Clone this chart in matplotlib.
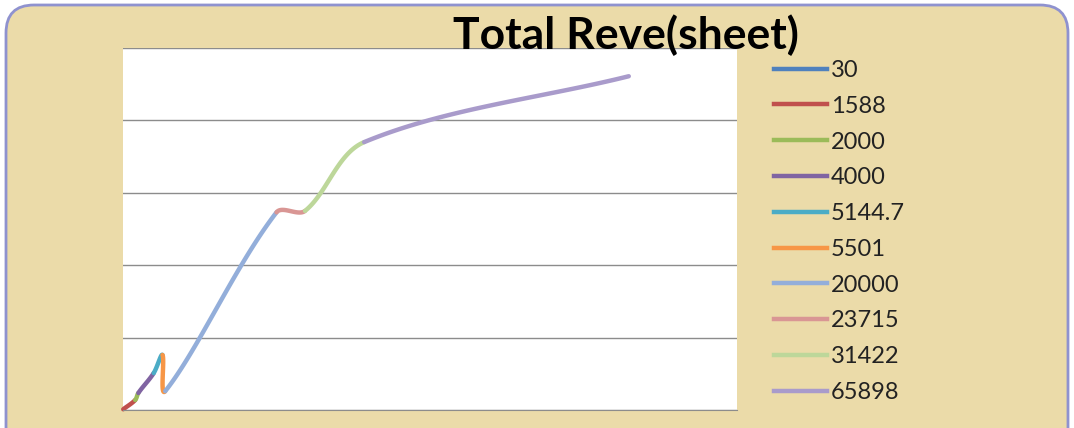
import numpy as np
import matplotlib
matplotlib.use("Agg")
import matplotlib.pyplot as plt
from matplotlib.patches import FancyBboxPatch
from matplotlib.lines import Line2D

plt.rcParams['font.family'] = ['Lato', 'DejaVu Sans']

# x values (also the legend labels) and total revenue
labels = ["30", "1588", "2000", "4000", "5144.7", "5501",
          "20000", "23715", "31422", "65898"]
x_vals = [30, 1588, 2000, 4000, 5144.7, 5501, 20000, 23715, 31422, 65898]
revenue = [1000, 13800, 23500, 51000, 76000, 26000, 273000, 275000, 370000, 461000]
colors = ["#4F81BD", "#C0504D", "#9BBB59", "#8064A2", "#4BACC6", "#F79646",
          "#93AEDA", "#D99694", "#BDD79A", "#A99BCB"]

XMAX, YMAX = 80000, 500000

W, H = 1074, 428
fig = plt.figure(figsize=(W / 100, H / 100), dpi=100)
fig.patch.set_facecolor("white")

# parchment panel
bg = fig.add_axes([0, 0, 1, 1])
bg.set_xlim(0, W)
bg.set_ylim(H, 0)
bg.axis("off")
bg.add_patch(FancyBboxPatch((6, 5), W - 12, H + 30,
                            boxstyle="round,pad=0,rounding_size=28",
                            facecolor="#EBDBA9", edgecolor="#8F92CF", lw=2))

left, right, top, bottom = 123, 737, 48, 410
ax = fig.add_axes([left / W, 1 - bottom / H, (right - left) / W, (bottom - top) / H])
ax.set_facecolor("white")
ax.set_xlim(0, XMAX)
ax.set_ylim(0, YMAX)
ax.set_yticks(np.arange(0, YMAX + 1, 100000))
ax.yaxis.grid(True, color="#8C8C8C", lw=1)
ax.set_axisbelow(True)
ax.tick_params(length=0, labelleft=False, labelbottom=False)
for s in ["left", "right", "top"]:
    ax.spines[s].set_visible(False)
ax.spines["bottom"].set_color("#8C8C8C")

# smoothed line: bezier pieces with tangents scaled by chord length,
# worked out in screen space so it bends the same way
sx = (right - left) / XMAX
sy = (bottom - top) / YMAX
P = np.column_stack([np.array(x_vals) * sx, np.array(revenue) * sy])
n = len(P)
t = np.linspace(0, 1, 50)[:, None]


def tangent(i):
    a = P[i - 1] if i > 0 else P[i]
    b = P[i + 1] if i + 1 < n else P[i]
    d = np.linalg.norm(P[i] - a) + np.linalg.norm(b - P[i])
    return (b - a) / d if d > 0 else np.zeros(2)


for i in range(1, n):
    p0, p3 = P[i - 1], P[i]
    L = np.linalg.norm(p3 - p0)
    c1 = p0 + tangent(i - 1) * L / 3
    c2 = p3 - tangent(i) * L / 3
    seg = ((1 - t) ** 3) * p0 + 3 * ((1 - t) ** 2) * t * c1 + 3 * (1 - t) * t ** 2 * c2 + t ** 3 * p3
    ax.plot(seg[:, 0] / sx, seg[:, 1] / sy, color=colors[i], lw=3.2,
            solid_capstyle="round", clip_on=False)

handles = [Line2D([], [], color=c, lw=3.2) for c in colors]
fig.legend(handles, labels, loc="upper left", bbox_to_anchor=(774 / W, 1 - 60 / H),
           frameon=False, fontsize=17, handlelength=2.25, handletextpad=0.17,
           labelspacing=0.625, labelcolor="#222222", borderaxespad=0, borderpad=0)

fig.text(626 / W, 1 - 35 / H, "Total Reve(sheet)", fontsize=32, fontweight="bold",
         ha="center", va="center", color="black")

fig.savefig("out.png", dpi=100)
